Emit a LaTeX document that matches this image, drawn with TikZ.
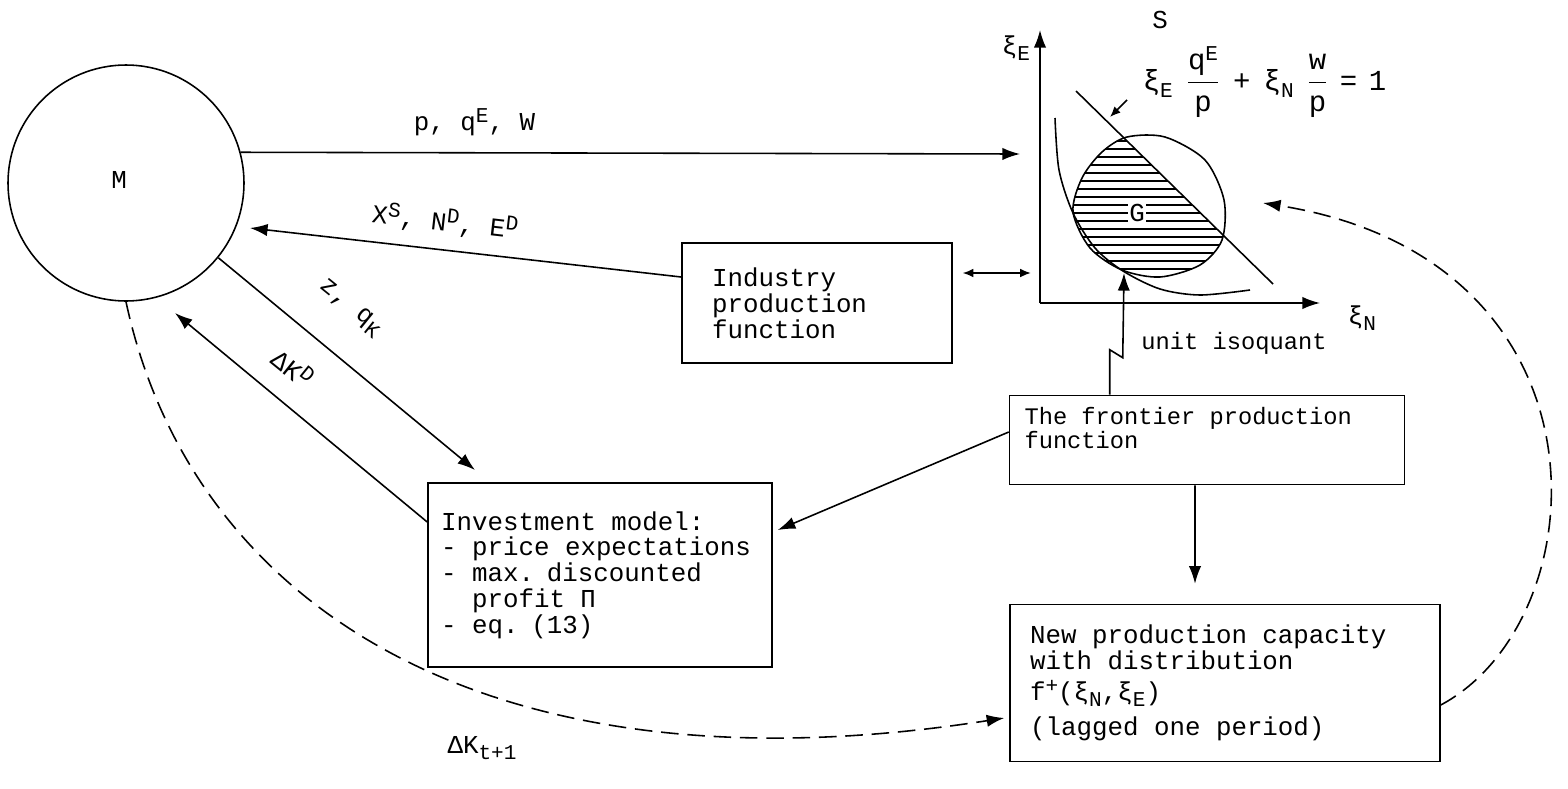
\documentclass[tikz,border=0pt]{standalone}
\usepackage{fontspec}
\setmainfont{Liberation Mono}
\setmonofont{Liberation Mono}
\usetikzlibrary{arrows.meta}
\newcommand{\boxfont}{\ttfamily\fontsize{14.7}{14.7}\selectfont}
\newcommand{\smallboxfont}{\ttfamily\fontsize{13.5}{13.5}\selectfont}
\newcommand{\eqfont}{\ttfamily\fontsize{16.5}{16.5}\selectfont}
\newcommand{\sups}[1]{\raisebox{0.6ex}{\fontsize{12}{12}\selectfont #1}}
\newcommand{\subs}[1]{\raisebox{-0.45ex}{\fontsize{12}{12}\selectfont #1}}

\begin{document}
\begin{tikzpicture}[x=0.02cm, y=-0.02cm, line width=0.9pt,
  >={Latex[length=10pt,width=7pt]},
  box/.style={draw, rectangle, align=left, font=\boxfont, inner ysep=0pt,
    execute at begin node={\spaceskip=0.6em\relax}},
  lbl/.style={font=\boxfont, inner sep=0pt},
  flow/.style={->},
  tinyarrow/.style={-{Latex[length=6pt,width=5pt]}},
  lagged/.style={->, dash pattern=on 10pt off 5pt}]

\useasboundingbox (0,0) rectangle (1568,788);

% Market
\node[circle, draw, minimum size=4.72cm, inner sep=0pt] (M) at (126,183) {};
\node[lbl] (Mlbl) at (119,180) {M};

% Blocks
\node[box, text width=4.2cm, inner xsep=0.6cm, minimum height=2.4cm] (industry) at (817,303) {Industry\\production\\function};
\node[box, font=\smallboxfont, text width=7.3cm, inner xsep=0.3cm, minimum height=1.78cm] (frontier) at (1207,440) {The frontier production\\function\\\mbox{}};
\node[box, text width=6.36cm, inner xsep=0.26cm, minimum height=3.68cm] (invest) at (600,575) {Investment model:\\- price expectations\\- max. discounted\\\phantom{-} profit Π\\- eq. (13)};
\node[box, text width=7.8cm, inner xsep=0.4cm, minimum height=3.14cm] (newcap) at (1225,683) {New production capacity\\with distribution\\[3pt]f\sups{+}(ξ\subs{N},ξ\subs{E})\\[5pt](lagged one period)};

% Factor space S
\coordinate (O) at (1040,303);
\coordinate (Etop) at (1040,30);
\coordinate (Nend) at (1320,303);
\draw[flow] (O) -- (Etop);
\draw[flow] (O) -- (Nend);
\node[lbl] (xiE) at (1016,48) {ξ\subs{E}};
\node[lbl] (xiN) at (1362,318) {ξ\subs{N}};
\node[lbl] (S) at (1160,20) {S};

% Shaded part of G below the budget line
\begin{scope}
\clip plot[smooth cycle] coordinates {(1127,137) (1165,137) (1205,160) (1224,200) (1222,240) (1200,265) (1160,277) (1122,270) (1090,248) (1073,212) (1082,178) (1102,152)};
\clip (879,-102) -- (1470,477) -- (800,477) -- cycle;
\foreach \y in {141,149,...,277}
  \draw[line width=0.7pt] (1060,\y) -- (1240,\y);
\end{scope}
\draw plot[smooth cycle] coordinates {(1127,137) (1165,137) (1205,160) (1224,200) (1222,240) (1200,265) (1160,277) (1122,270) (1090,248) (1073,212) (1082,178) (1102,152)};
\node[lbl, fill=white, inner sep=0.5pt] (G) at (1137,213) {G};

% Budget line and unit isoquant
\coordinate (bl1) at (1076,91);
\coordinate (bl2) at (1273,284);
\draw (bl1) -- (bl2);
\draw plot[smooth] coordinates {(1055,118) (1059,170) (1073,213) (1095,248) (1123,271) (1160,289) (1200,295) (1250,290)};
\coordinate (isotan) at (1124,273);
\node[lbl, font=\eqfont, anchor=west] (budget) at (1142,82) {$\mbox{ξ\subs{E}}\hspace{0.45em}\displaystyle\frac{\mbox{q\sups{E}}}{\mbox{p}}\hspace{0.45em}\mbox{+}\hspace{0.45em}\mbox{ξ\subs{N}}\hspace{0.45em}\frac{\mbox{w}}{\mbox{p}}\hspace{0.4em}\mbox{=}\hspace{0.4em}\mbox{1}$};
\coordinate (blpt) at (1110,117);
\draw[tinyarrow] (1127,100) -- (blpt);
\node[lbl, font=\smallboxfont] (isolbl) at (1234,343) {unit isoquant};

% Flows
\coordinate (graphin) at (1020,154);
\draw[flow] (M.15) -- (graphin) node[lbl, pos=0.3, above=0.32cm] (pqw) {p, q\sups{E}, W};
\coordinate (Xend) at (250,228);
\draw[flow] ([yshift=0.52cm]industry.west) -- (Xend);
\node[lbl, rotate=-6.5] (XNE) at (445,222) {X\sups{S}, N\sups{D}, E\sups{D}};
\draw[{Latex[length=6pt,width=5pt]}-{Latex[length=6pt,width=5pt]}] ([xshift=0.2cm,yshift=0.6cm]industry.east) -- ++(68,0);
\coordinate (zend) at (475,470);
\draw[flow] (M.-39) -- (zend);
\node[lbl, rotate=-39] (zq) at (350,308) {z, q\subs{K}};
\coordinate (dkend) at (175,313);
\draw[flow] ([yshift=1.06cm]invest.west) -- (dkend);
\node[lbl, rotate=-39] (dK) at (293,368) {ΔK\sups{D}};
\draw[flow] ([yshift=0.16cm]frontier.west) -- ([xshift=0.1cm,yshift=0.9cm]invest.east);
\draw[flow] ([xshift=-0.24cm]frontier.south) -- ([xshift=-0.6cm,yshift=0.4cm]newcap.north);
\draw[flow] ([xshift=2.02cm]frontier.north west) -- ++(0,-45) -- ++(13,8) -- (isotan);

% Lagged capacity
\draw[lagged] (M.-90) .. controls (190,600) and (480,800) .. ([xshift=-0.1cm,yshift=-0.7cm]newcap.west);
\node[lbl] (dKt) at (482,748) {ΔK\subs{t+1}};
\coordinate (Gin) at (1263,203);
\draw[lagged] ([yshift=-0.44cm]newcap.east) .. controls (1600,620) and (1620,260) .. (Gin);

\end{tikzpicture}
\end{document}
